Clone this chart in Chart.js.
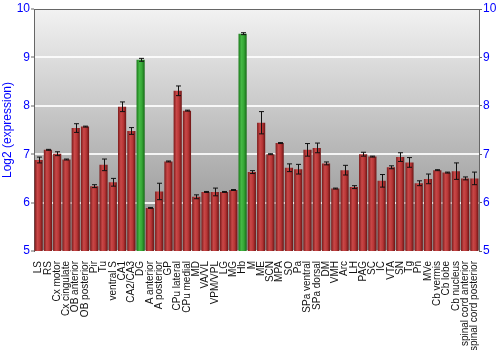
<!DOCTYPE html>
<html>
<head>
<meta charset="utf-8">
<script src="https://cdn.jsdelivr.net/npm/chart.js@4/dist/chart.umd.min.js"></script>
<style>
  html, body { margin: 0; padding: 0; background: #fff; }
  #wrap { width: 500px; height: 350px; }
</style>
</head>
<body>
<div id="wrap"><canvas id="c"></canvas></div>
<script>
// Regiones (eje x) y su expresión en log2, con el error de cada barra.
var regiones = ["LS", "RS", "Cx motor", "Cx cingulate", "OB anterior", "OB posterior", "Pir", "Tu",
    "ventral S", "CA1", "CA2/CA3", "DG", "A anterior", "A posterior", "GP", "CPu lateral", "CPu medial",
    "MD", "VA/VL", "VPM/VPL", "LG", "MG", "Hb", "M", "ME", "SCN", "MPA", "SO", "Pa", "SPa ventral",
    "SPa dorsal", "DM", "VMH", "Arc", "LH", "PAG", "SC", "IC", "VTA", "SN", "Tg", "Pn", "MVe",
    "Cb vermis", "Cb lobe", "Cb nucleus", "spinal cord anterior", "spinal cord posterior"];

var expresion = [6.88, 7.09, 7.01, 6.89, 7.54, 7.57, 6.34, 6.78,
    6.42, 7.98, 7.48, 8.95, 5.89, 6.23, 6.85, 8.31, 7.90,
    6.12, 6.22, 6.22, 6.22, 6.26, 9.49, 6.63, 7.65, 7.00, 7.23, 6.72, 6.69, 7.09,
    7.13, 6.81, 6.29, 6.67, 6.32, 7.00, 6.95, 6.45, 6.73, 6.94, 6.83, 6.40, 6.49,
    6.67, 6.62, 6.65, 6.50, 6.50];

var error = [0.06, 0.01, 0.04, 0.01, 0.09, 0.01, 0.03, 0.12,
    0.08, 0.10, 0.07, 0.03, 0.01, 0.17, 0.01, 0.10, 0.01,
    0.04, 0.01, 0.08, 0.01, 0.01, 0.02, 0.03, 0.23, 0.01, 0.01, 0.08, 0.10, 0.13,
    0.10, 0.03, 0.01, 0.10, 0.03, 0.04, 0.01, 0.13, 0.03, 0.09, 0.10, 0.05, 0.10,
    0.01, 0.01, 0.17, 0.03, 0.13];

// Regiones resaltadas en verde.
var destacadas = ["DG", "Hb"];

var ticksY = [5, 6, 7, 8, 9, 10];

var AZUL = "#0000ff";

function degradadoBarra(ctx) {
    var chart = ctx.chart;
    var area = chart.chartArea;
    var verde = destacadas.indexOf(regiones[ctx.dataIndex]) >= 0;
    var base = verde ? "#2e9e2e" : "#b03030";
    if (!area || !chart.scales.x) return base;
    var x = chart.scales.x.getPixelForValue(ctx.dataIndex);
    var ancho = chart.scales.x.width / regiones.length * 0.88;
    var g = chart.ctx.createLinearGradient(x - ancho / 2, 0, x + ancho / 2, 0);
    if (verde) {
        g.addColorStop(0, "#1a7a1a");
        g.addColorStop(0.35, "#45b845");
        g.addColorStop(0.65, "#36a836");
        g.addColorStop(1, "#166816");
    } else {
        g.addColorStop(0, "#7a1a1a");
        g.addColorStop(0.35, "#c94848");
        g.addColorStop(0.65, "#b83636");
        g.addColorStop(1, "#6a1414");
    }
    return g;
}

// Fondo degradado gris detrás del área de la gráfica.
var fondo = {
    id: "fondo",
    beforeDraw: function (chart) {
        var a = chart.chartArea, c = chart.ctx;
        var g = c.createLinearGradient(0, a.top, 0, a.bottom);
        g.addColorStop(0, "#f2f2f2");
        g.addColorStop(1, "#8c8c8c");
        c.save();
        c.fillStyle = g;
        c.fillRect(a.left, a.top, a.right - a.left, a.bottom - a.top);
        c.restore();
    },
    afterDraw: function (chart) {
        var a = chart.chartArea, c = chart.ctx;
        c.save();
        c.strokeStyle = "#666";
        c.lineWidth = 1;
        c.beginPath();
        c.moveTo(a.left, a.top + 0.5);
        c.lineTo(a.right, a.top + 0.5);
        c.stroke();
        c.restore();
    }
};

// Barras de error dibujadas con las escalas de Chart.js.
var barrasError = {
    id: "barrasError",
    afterDatasetsDraw: function (chart) {
        var c = chart.ctx, xs = chart.scales.x, ys = chart.scales.y;
        c.save();
        c.strokeStyle = "#111";
        c.lineWidth = 1;
        for (var i = 0; i < expresion.length; i++) {
            var x = Math.round(xs.getPixelForValue(i)) + 0.5;
            var y1 = ys.getPixelForValue(expresion[i] + error[i]);
            var y2 = ys.getPixelForValue(expresion[i] - error[i]);
            c.beginPath();
            c.moveTo(x, y1); c.lineTo(x, y2);
            c.moveTo(x - 2.5, y1); c.lineTo(x + 2.5, y1);
            c.moveTo(x - 2.5, y2); c.lineTo(x + 2.5, y2);
            c.stroke();
        }
        c.restore();
    }
};

var fuente = "'Liberation Sans', Arial, sans-serif";

new Chart(document.getElementById("c"), {
    type: "bar",
    data: {
        labels: regiones,
        datasets: [{
            data: expresion,
            backgroundColor: degradadoBarra,
            borderWidth: 0,
            barPercentage: 0.88,
            categoryPercentage: 1.0
        }]
    },
    options: {
        responsive: true,
        maintainAspectRatio: false,
        animation: false,
        layout: { padding: { top: 9, left: 0, right: 0, bottom: 0 } },
        plugins: { legend: { display: false }, tooltip: { enabled: false } },
        scales: {
            x: {
                grid: { display: false },
                border: { display: false },
                ticks: {
                    autoSkip: false, minRotation: 90, maxRotation: 90, padding: 2,
                    color: "#111", font: { family: fuente, size: 10 }
                },
                afterFit: function (s) { s.height = 99; }
            },
            y: {
                min: 5, max: 10,
                afterBuildTicks: function (s) { s.ticks = ticksY.map(function (v) { return { value: v }; }); },
                grid: { color: "rgba(255,255,255,0.85)", lineWidth: 2, tickLength: 3, tickColor: "#666", tickWidth: 1 },
                border: { display: true, color: "#666", width: 1 },
                ticks: { color: AZUL, padding: 1, font: { family: fuente, size: 12 } },
                title: { display: true, text: "Log2 (expression)", color: AZUL, padding: 0, font: { family: fuente, size: 12 } },
                afterFit: function (s) { s.width = 34; }
            },
            y2: {
                position: "right",
                min: 5, max: 10,
                afterBuildTicks: function (s) { s.ticks = ticksY.map(function (v) { return { value: v }; }); },
                grid: { drawOnChartArea: false, tickLength: 3, tickColor: "#666" },
                border: { display: true, color: "#666", width: 1 },
                ticks: { color: AZUL, padding: 1, font: { family: fuente, size: 12 } },
                afterFit: function (s) { s.width = 21; }
            }
        }
    },
    plugins: [fondo, barrasError]
});
</script>
</body>
</html>
